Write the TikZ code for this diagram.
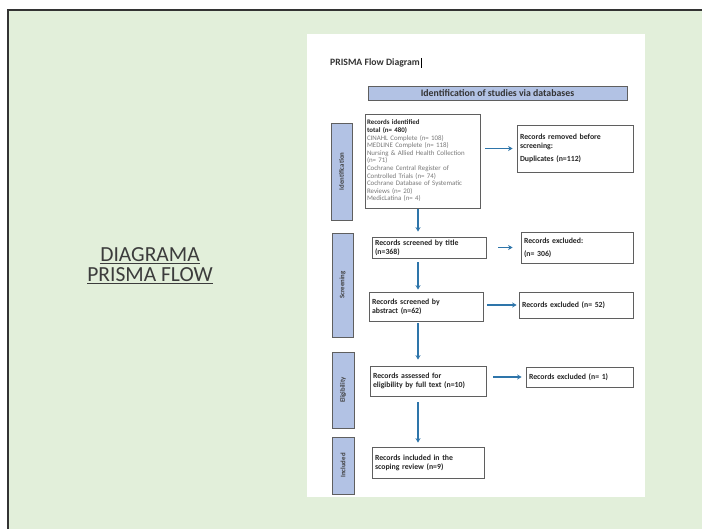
\documentclass[tikz,border=0pt]{standalone}
\usepackage{fontspec}
\setmainfont{Carlito}
\usetikzlibrary{arrows.meta}
\definecolor{bgreen}{RGB}{226,239,218}
\definecolor{sideblue}{RGB}{178,194,228}
\definecolor{arrblue}{RGB}{46,117,170}
\definecolor{boxline}{RGB}{95,95,95}
\definecolor{titlegray}{RGB}{60,60,60}
\definecolor{lightgray}{RGB}{120,120,120}
\begin{document}
\begin{tikzpicture}[x=1pt,y=-1pt,
  box/.style={draw=boxline, fill=white, line width=0.8pt, inner sep=2.5pt, align=left,
    font=\fontsize{7.8}{9}\selectfont\bfseries, text=black!85},
  side/.style={draw=boxline, fill=sideblue, line width=0.8pt, inner sep=0pt, rotate=90,
    font=\fontsize{6.8}{7}\selectfont\bfseries, text=black!75},
  arr/.style={draw=arrblue, line width=1.6pt, -{Stealth[length=4.5pt,width=5pt]}}]
\useasboundingbox (0,0) rectangle (702,529);
\fill[white] (0,0) rectangle (702,529);
\fill[bgreen] (8,10) rectangle (702,529);
\draw[line width=1.5pt, black!80] (8,529) -- (8,10) -- (702,10);
% page
\fill[white] (307,34) rectangle (645,497);
% left title
\node[font=\fontsize{21.5}{20}\selectfont, text=titlegray, align=center] (title) at (150,266)
  {\underline{DIAGRAMA}\\\underline{PRISMA FLOW}};
% page title
\node[anchor=west, font=\fontsize{9.7}{10}\selectfont\bfseries, text=black!80, inner sep=0pt] (ptitle) at (330,63) {PRISMA Flow Diagram};
\coordinate (cur) at ([xshift=1pt]ptitle.east);
\draw[line width=0.6pt] ([yshift=5pt]cur) -- ([yshift=-5pt]cur);
% header
\node[draw=boxline, fill=sideblue, line width=0.9pt, minimum width=259pt, minimum height=14pt, inner sep=0pt,
  font=\fontsize{9.8}{10}\selectfont\bfseries, text=black!80] (hdr) at (497.5,93) {Identification of studies via databases};
% side labels
\node[side, minimum width=97pt, minimum height=21pt] (sid) at (341.5,171.5) {Identification};
\node[side, minimum width=104pt, minimum height=21pt] (ssc) at (342.5,285) {Screening};
\node[side, minimum width=76pt, minimum height=22pt] (sel) at (343,390) {Eligibility};
\node[side, minimum width=57pt, minimum height=22pt] (sin) at (343,465.5) {Included};
% boxes
\node[box, minimum width=115pt, minimum height=94pt, text width=111pt, inner sep=2pt,
  font=\fontsize{6.9}{7.6}\selectfont] (b1) at (422.5,161)
  {\textbf{Records identified}\\ \textbf{total (n= 480)}\\ \color{lightgray}CINAHL Complete (n= 108)\\ MEDLINE Complete (n= 118)\\ Nursing \& Allied Health Collection\\ (n= 71)\\ Cochrane Central Register of\\ Controlled Trials (n= 74)\\ Cochrane Database of Systematic\\ Reviews (n= 20)\\ MedicLatina (n= 4)};
\node[box, minimum width=116pt, minimum height=47pt, text width=110pt] (b2) at (575,148.5)
  {Records removed before\\ screening:\\[4pt] Duplicates (n=112)};
\node[box, minimum width=114pt, minimum height=21pt, text width=108pt] (b3) at (429,247.5)
  {Records screened by title\\ (n=368)};
\node[box, minimum width=112pt, minimum height=31pt, text width=106pt] (b4) at (577,247.5)
  {Records excluded:\\[4pt] (n= 306)};
\node[box, minimum width=114pt, minimum height=29pt, text width=108pt] (b5) at (426,306.5)
  {Records screened by\\ abstract (n=62)};
\node[box, minimum width=114pt, minimum height=26pt, text width=108pt] (b6) at (576,305)
  {Records excluded (n= 52)};
\node[box, minimum width=116pt, minimum height=30pt, text width=110pt] (b7) at (428,381)
  {Records assessed for\\ eligibility by full text (n=10)};
\node[box, minimum width=107pt, minimum height=20pt, text width=101pt] (b8) at (579.5,377)
  {Records excluded (n= 1)};
\node[box, minimum width=112pt, minimum height=31pt, text width=106pt] (b9) at (428,462.5)
  {Records included in the\\ scoping review (n=9)};
% arrows
\coordinate (ax) at (418,0);
\draw[arr] ([yshift=-1pt]b1.south -| ax) -- ([yshift=5pt]b3.north -| ax);
\draw[arr] ([yshift=-4pt]b3.south -| ax) -- ([yshift=2pt]b5.north -| ax);
\draw[arr] ([yshift=-2pt]b5.south -| ax) -- ([yshift=6pt]b7.north -| ax);
\draw[arr] ([yshift=-6pt]b7.south -| ax) -- ([yshift=4pt]b9.north -| ax);
\draw[arr] ([xshift=5pt]b1.east |- b2.west) -- ([xshift=-4pt]b2.west);
\draw[arr] ([xshift=12pt]b3.east |- b4.west) -- ([xshift=-8pt]b4.west);
\draw[arr] ([xshift=4pt]b5.east |- b6.west) -- ([xshift=-2pt]b6.west);
\draw[arr] ([xshift=7pt]b7.east |- b8.west) -- ([xshift=-4pt]b8.west);
\end{tikzpicture}
\end{document}
